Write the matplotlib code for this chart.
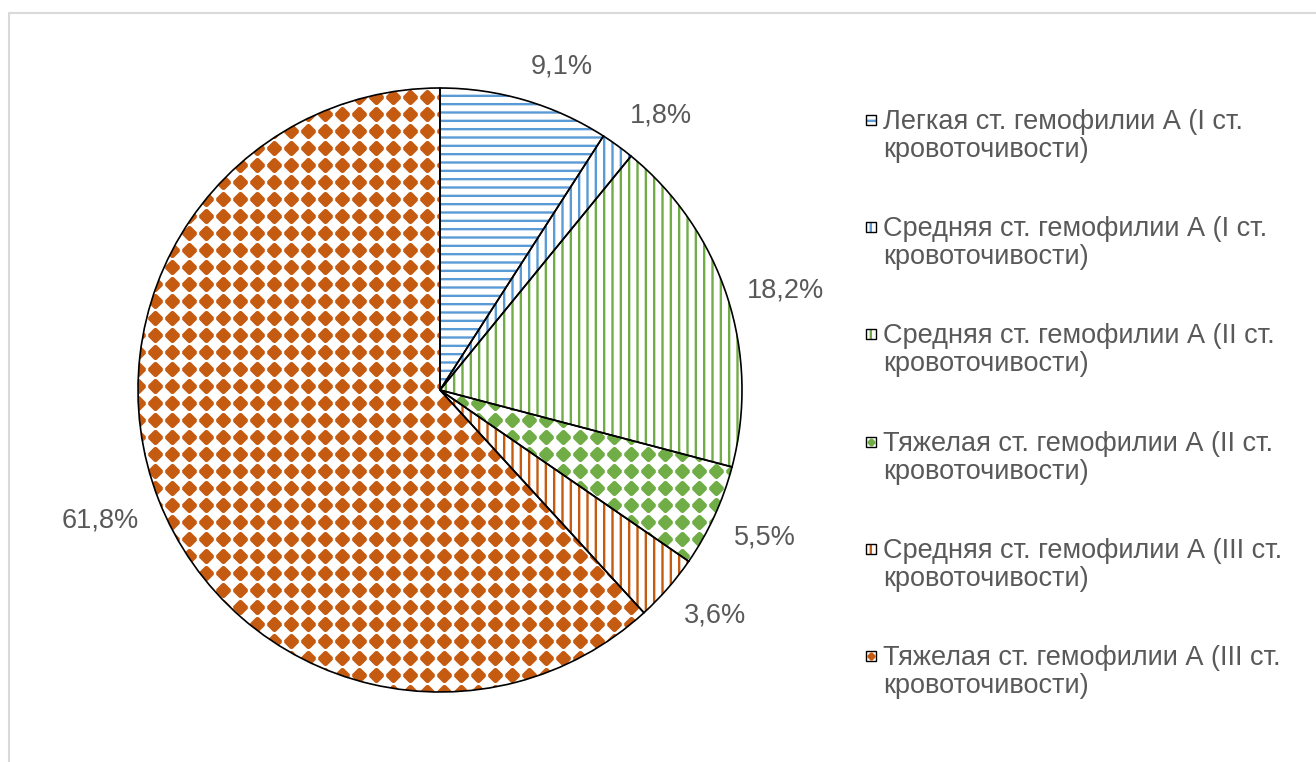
import numpy as np
import matplotlib
matplotlib.use('Agg')
import matplotlib.pyplot as plt
from matplotlib.patches import Rectangle
from matplotlib.lines import Line2D

plt.rcParams['font.family'] = ['Liberation Sans', 'DejaVu Sans']
plt.rcParams['hatch.linewidth'] = 1.7

# доли пациентов по степени тяжести / кровоточивости
categories = [
    'Легкая ст. гемофилии А (I ст.\nкровоточивости)',
    'Средняя ст. гемофилии А (I ст.\nкровоточивости)',
    'Средняя ст. гемофилии А (II ст.\nкровоточивости)',
    'Тяжелая ст. гемофилии А (II ст.\nкровоточивости)',
    'Средняя ст. гемофилии А (III ст.\nкровоточивости)',
    'Тяжелая ст. гемофилии А (III ст.\nкровоточивости)',
]
shares = [9.1, 1.8, 18.2, 5.5, 3.6, 61.8]
colors = ['#5B9BD5', '#5B9BD5', '#70AD47', '#70AD47', '#C55A11', '#C55A11']
patterns = ['--', '||', '||', 'dots', '||', 'dots']

text_col = '#595959'
fs = 19.5

# ромбик со срезанными углами для узора
c8 = 0.85
dot = [(c8, 1 - c8), (c8, c8 - 1), (1 - c8, -c8), (c8 - 1, -c8),
       (-c8, c8 - 1), (-c8, 1 - c8), (c8 - 1, c8), (1 - c8, c8)]

W, H = 1316, 762
fig = plt.figure(figsize=(W / 100, H / 100), dpi=100)

# рамка области диаграммы (видны только верх и левый край)
fig.add_artist(Line2D([9 / W, 9 / W, 1.0], [0.0, 1 - 13 / H, 1 - 13 / H],
                      transform=fig.transFigure, color='#D9D9D9', lw=1.5))

cx, cy, r = 440, 390, 302
ax = fig.add_axes([(cx - r) / W, (H - cy - r) / H, 2 * r / W, 2 * r / H])

# заливка секторов штриховкой / ромбиками
wedges, _ = ax.pie(shares, colors=['white'] * len(shares), startangle=90,
                   counterclock=False, wedgeprops=dict(linewidth=0))
step = 17 / r
g = np.arange(-1, 1 + step, step)
gx, gy = np.meshgrid(g, g)
for w, c, p in zip(wedges, colors, patterns):
    w.set_edgecolor(c)
    if p == 'dots':
        sc = ax.scatter(gx.ravel(), gy.ravel(), s=110, marker=dot,
                        color=c, linewidths=0, zorder=2)
        sc.set_clip_path(w)
    else:
        w.set_hatch(p)

# контуры секторов и подписи процентов
labels = [f'{v:.1f}%'.replace('.', ',') for v in shares]
outl, texts = ax.pie(shares, labels=labels, startangle=90, counterclock=False,
                     labeldistance=1.07,
                     wedgeprops=dict(fill=False, edgecolor='black', linewidth=1.2, zorder=3),
                     textprops=dict(fontsize=fs, color=text_col))
for t in texts:
    x, y = t.get_position()
    s = y / np.hypot(x, y)
    t.set_va('bottom' if s > 0.33 else 'top' if s < -0.33 else 'center')
ax.set_xlim(-1, 1)
ax.set_ylim(-1, 1)
ax.axis('off')

# легенда
lx, tx, y0, pitch, lstep = 866, 883, 120, 107.2, 28
for i, (lab, c, p) in enumerate(zip(categories, colors, patterns)):
    y = y0 + i * pitch
    bx, by = lx / W, 1 - (y + 5) / H
    bw, bh = 10 / W, 10 / H
    if p == 'dots':
        fig.add_artist(Rectangle((bx, by), bw, bh, transform=fig.transFigure,
                                 facecolor='white', lw=0))
        fig.add_artist(Line2D([bx + bw / 2], [by + bh / 2], transform=fig.transFigure,
                              marker=dot, ms=6, color=c, mew=0))
    else:
        fig.add_artist(Rectangle((bx, by), bw, bh, transform=fig.transFigure,
                                 facecolor='white', edgecolor=c, lw=0, hatch=p))
    fig.add_artist(Rectangle((bx, by), bw, bh, transform=fig.transFigure,
                             fill=False, edgecolor='black', lw=1))
    for k, line in enumerate(lab.split('\n')):
        fig.text(tx / W, 1 - (y + 9 + k * lstep) / H, line, fontsize=fs,
                 color=text_col, va='baseline', ha='left')

fig.savefig('out.png', dpi=100)
